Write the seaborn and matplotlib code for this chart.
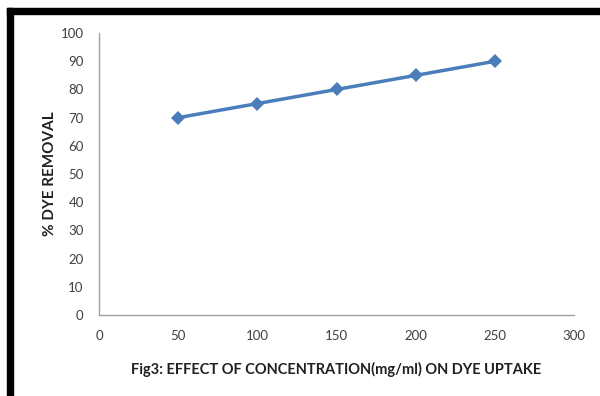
import matplotlib
matplotlib.use("Agg")
import matplotlib.pyplot as plt
import seaborn as sns
import pandas as pd
from matplotlib.patches import Rectangle

concentration = [50, 100, 150, 200, 250]
dye_removal = [70, 75, 80, 85, 90]
x_ticks = [0, 50, 100, 150, 200, 250, 300]
y_ticks = [0, 10, 20, 30, 40, 50, 60, 70, 80, 90, 100]

sns.set_theme(style="white")
plt.rcParams['font.family'] = ['Lato', 'DejaVu Sans']

df = pd.DataFrame({"conc": concentration, "removal": dye_removal})

fig = plt.figure(figsize=(6, 3.96), dpi=100)
ax = fig.add_axes([0.165, 0.2045, 0.792, 0.712])
sns.lineplot(data=df, x="conc", y="removal", ax=ax, color="#4a7ebb",
             marker="D", markersize=7.5, linewidth=2.5, markeredgewidth=0)

ax.set_xlim(0, 300)
ax.set_ylim(0, 100)
ax.set_xticks(x_ticks)
ax.set_yticks(y_ticks)
ax.tick_params(axis="both", direction="out", length=4, width=1, color="#a0a0a0",
               labelsize=9.5, labelcolor="#404040", pad=7)
for s in ["top", "right"]:
    ax.spines[s].set_visible(False)
for s in ["left", "bottom"]:
    ax.spines[s].set_color("#a0a0a0")
    ax.spines[s].set_linewidth(1)
ax.set_xlabel("Fig3: EFFECT OF CONCENTRATION(mg/ml) ON DYE UPTAKE", fontsize=10.5,
              fontweight="bold", color="#202020", labelpad=14)
ax.set_ylabel("% DYE REMOVAL", fontsize=11, fontweight="bold", color="#202020", labelpad=3)

# black frame on top and left
fig.patches.append(Rectangle((7/600, 0), 6/600, 1 - 8/396, transform=fig.transFigure,
                             color="black", zorder=10))
fig.patches.append(Rectangle((7/600, 1 - 14/396), 1, 6/396, transform=fig.transFigure,
                             color="black", zorder=10))

fig.savefig("out.png", dpi=100)
